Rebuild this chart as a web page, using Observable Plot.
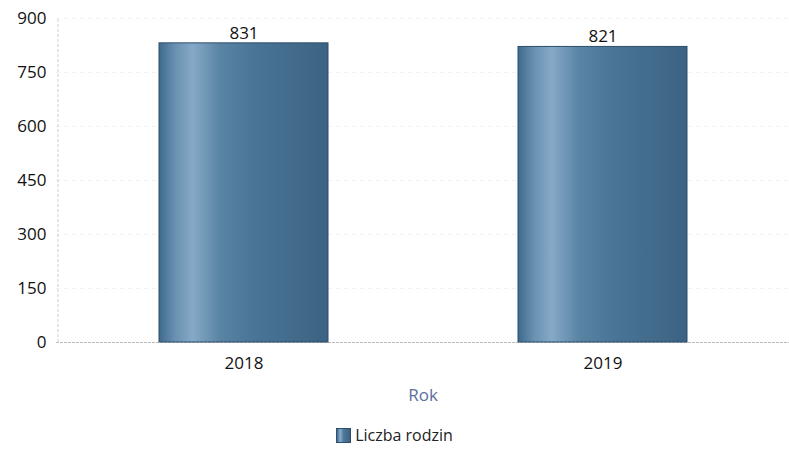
<!DOCTYPE html>
<html>
<head>
<meta charset="utf-8">
<script src="https://cdn.jsdelivr.net/npm/d3@7"></script>
<script src="https://cdn.jsdelivr.net/npm/@observablehq/plot@0.6"></script>
<style>
  html, body { margin: 0; padding: 0; background: #fff; }
  body { width: 789px; height: 450px; overflow: hidden; font-family: "Open Sans", "Noto Sans", sans-serif; }
  #chart svg { display: block; }
  g[aria-label="x-axis label"] text { fill: #5d6e9e; }
  .legend { display: flex; justify-content: center; align-items: center; gap: 4px; font-size: 16px; color: #222; margin-top: 16px; }
  .legend .sw { width: 15px; height: 15px; background: linear-gradient(90deg, #3f6a8c 0%, #8aaccb 25%, #4f7a9a 50%, #3c6282 100%); border: 1px solid #2d4f6b; box-sizing: border-box; }
</style>
</head>
<body>
<div id="chart"></div>
<div class="legend"><span class="sw"></span><span>Liczba rodzin</span></div>
<script>
const years = ["2018", "2019"];
const families = [831, 821];
const yTicks = [0, 150, 300, 450, 600, 750, 900];
const seriesName = "Liczba rodzin";
const xTitle = "Rok";

const data = years.map((y, i) => ({ year: y, value: families[i] }));

const chart = Plot.plot({
  width: 789,
  height: 408,
  marginLeft: 56,
  marginRight: 0,
  marginTop: 18,
  marginBottom: 66,
  style: { fontFamily: "'Open Sans', 'Noto Sans', sans-serif", fontSize: "16px", color: "#222", background: "#fff" },
  x: { domain: years, paddingInner: 0.53, paddingOuter: 0.284, label: null },
  y: { domain: [0, 900], ticks: yTicks, label: null },
  marks: [
    Plot.gridY(yTicks.filter(d => d > 0), { stroke: "#e4e4e4", strokeOpacity: 0.5, strokeDasharray: "4,4" }),
    Plot.ruleY([0], { stroke: "#bbbbbb", strokeDasharray: "3,1" }),
    Plot.barY(data, { x: "year", y: "value", fill: "url(#barGrad)", stroke: "#2d4f6b", strokeWidth: 1 }),
    Plot.text(data, { x: "year", y: "value", text: d => String(d.value), dy: -10, fontSize: 17, fill: "#111" }),
    Plot.axisY({ ticks: yTicks, tickSize: 0, tickPadding: 10, fontSize: 17, fill: "#111", label: null }),
    Plot.axisX({ tickSize: 0, tickPadding: 14, fontSize: 17, fill: "#111", label: xTitle, labelAnchor: "center", labelOffset: 58, labelArrow: "none" })
  ]
});

const svg = d3.select(chart);
svg.selectAll('g[aria-label="x-axis label"] text').style("font-size", "17px");
const defs = svg.insert("defs", ":first-child");
const g = defs.append("linearGradient").attr("id", "barGrad").attr("x1", "0%").attr("x2", "100%").attr("y1", "0%").attr("y2", "0%");
[["0%", "#3f6a8c"], ["10%", "#6b92b2"], ["20%", "#86a9c7"], ["36%", "#5a84a4"], ["55%", "#4a7596"], ["100%", "#3b6283"]].forEach(([o, c]) => g.append("stop").attr("offset", o).attr("stop-color", c));

// faint dashed left axis line at the start of the x range
const xr = chart.scale("x").range;
const yr = chart.scale("y").range;
svg.append("line")
  .attr("x1", xr[0] + 2).attr("x2", xr[0] + 2)
  .attr("y1", yr[0]).attr("y2", yr[1])
  .attr("stroke", "#cfcfcf").attr("stroke-dasharray", "3,2");

document.getElementById("chart").appendChild(chart);
</script>
</body>
</html>
